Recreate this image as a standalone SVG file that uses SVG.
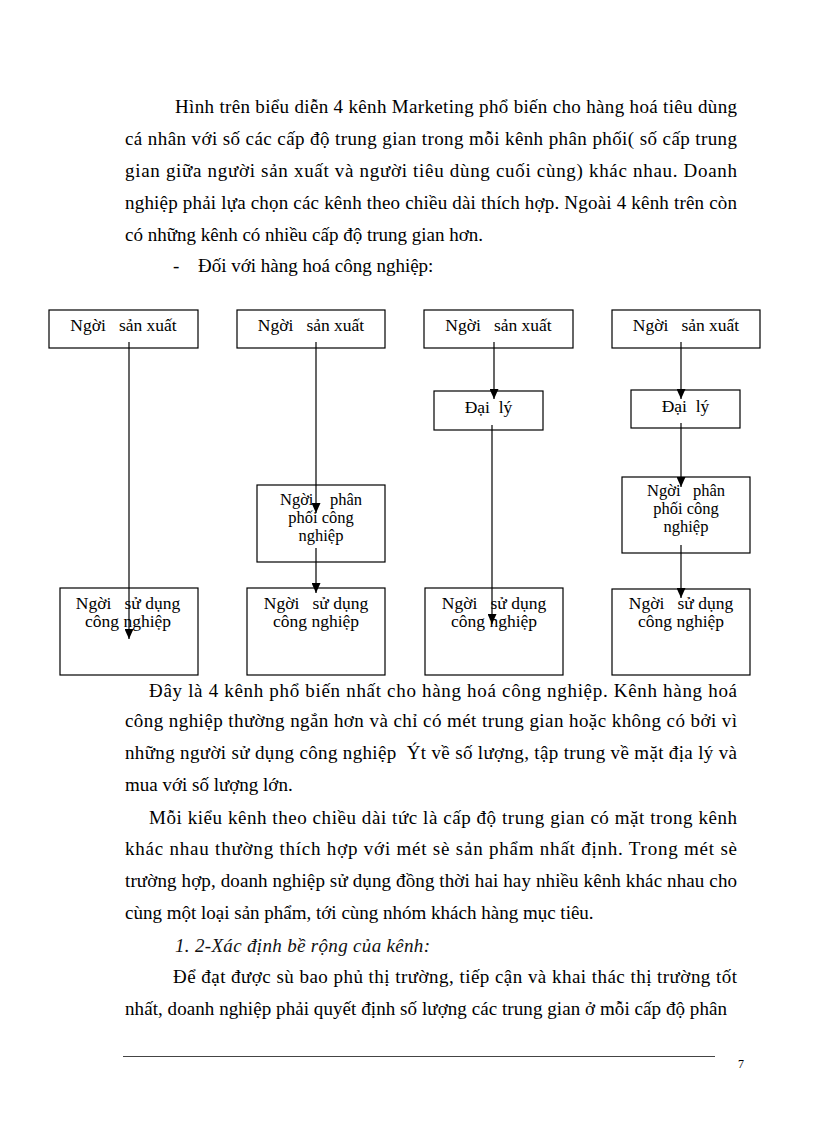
<svg xmlns="http://www.w3.org/2000/svg" width="816" height="1123" viewBox="0 0 816 1123">
<style>
  .body { font-family: "Liberation Serif", "Times New Roman", serif; font-size: 19px; fill: #000; }
  .ital { font-family: "Liberation Serif", "Times New Roman", serif; font-size: 19px; font-style: italic; fill: #111; }
  .lbl { font-family: "Liberation Serif", "Times New Roman", serif; font-size: 17.5px; fill: #000; text-anchor: middle; }
  .lbs { font-family: "Liberation Serif", "Times New Roman", serif; font-size: 16.5px; fill: #000; text-anchor: middle; }
  .box { fill: #fff; stroke: #000; stroke-width: 1.2; }
  .conn { stroke: #000; stroke-width: 1.2; fill: none; marker-end: url(#arr); }
  .pn { font-family: "Liberation Serif", "Times New Roman", serif; font-size: 12px; fill: #000; }
</style>
<defs>
  <marker id="arr" markerUnits="userSpaceOnUse" markerWidth="10" markerHeight="9" refX="10" refY="4.5" orient="auto">
    <path d="M0,0 L10,4.5 L0,9 z" fill="#000"/>
  </marker>
</defs>
<rect width="816" height="1123" fill="#fff"/>

<g id="text-top">
  <text class="body" x="175" y="112.5" textLength="562" lengthAdjust="spacing">Hình trên biểu diễn 4 kênh Marketing phổ biến cho hàng hoá tiêu dùng</text>
  <text class="body" x="125" y="145" textLength="612" lengthAdjust="spacing">cá nhân với số các cấp độ trung gian trong mỗi kênh phân phối( số cấp trung</text>
  <text class="body" x="125" y="177" textLength="612" lengthAdjust="spacing">gian giữa người sản xuất và người tiêu dùng cuối cùng) khác nhau. Doanh</text>
  <text class="body" x="125" y="209" textLength="612" lengthAdjust="spacing">nghiệp phải lựa chọn các kênh theo chiều dài thích hợp. Ngoài 4 kênh trên còn</text>
  <text class="body" x="125" y="241">có những kênh có nhiều cấp độ trung gian hơn.</text>
  <text class="body" x="173" y="272">-</text>
  <text class="body" x="198" y="272">Đối với hàng hoá công nghiệp:</text>
</g>

<g id="c1-producer">
  <rect class="box" x="49" y="310" width="149" height="38"/>
  <text class="lbl" x="123.5" y="331" xml:space="preserve">Ngời   sản xuất</text>
</g>
<g id="c1-user">
  <rect class="box" x="60" y="588" width="138" height="87"/>
  <text class="lbl" x="128" y="609" xml:space="preserve">Ngời   sử dụng</text>
  <text class="lbl" x="128" y="627">công nghiệp</text>
</g>

<g id="c2-producer">
  <rect class="box" x="237" y="310" width="148" height="38"/>
  <text class="lbl" x="311" y="331" xml:space="preserve">Ngời   sản xuất</text>
</g>
<g id="c2-distributor">
  <rect class="box" x="257" y="485" width="128" height="77"/>
  <text class="lbs" x="321" y="505" xml:space="preserve">Ngời    phân</text>
  <text class="lbs" x="321" y="523">phối công</text>
  <text class="lbs" x="321" y="541">nghiệp</text>
</g>
<g id="c2-user">
  <rect class="box" x="247" y="588" width="138" height="87"/>
  <text class="lbl" x="316" y="609" xml:space="preserve">Ngời   sử dụng</text>
  <text class="lbl" x="316" y="627">công nghiệp</text>
</g>

<g id="c3-producer">
  <rect class="box" x="424" y="310" width="149" height="38"/>
  <text class="lbl" x="498.5" y="331" xml:space="preserve">Ngời   sản xuất</text>
</g>
<g id="c3-agent">
  <rect class="box" x="434" y="391" width="109" height="39"/>
  <text class="lbl" x="488.5" y="413" xml:space="preserve">Đại  lý</text>
</g>
<g id="c3-user">
  <rect class="box" x="425" y="588" width="138" height="87"/>
  <text class="lbl" x="494" y="609" xml:space="preserve">Ngời   sử dụng</text>
  <text class="lbl" x="494" y="627">công nghiệp</text>
</g>

<g id="c4-producer">
  <rect class="box" x="612" y="310" width="148" height="38"/>
  <text class="lbl" x="686" y="331" xml:space="preserve">Ngời   sản xuất</text>
</g>
<g id="c4-agent">
  <rect class="box" x="631" y="390" width="109" height="38"/>
  <text class="lbl" x="685.5" y="412" xml:space="preserve">Đại  lý</text>
</g>
<g id="c4-distributor">
  <rect class="box" x="622" y="477" width="128" height="76"/>
  <text class="lbs" x="686" y="496" xml:space="preserve">Ngời   phân</text>
  <text class="lbs" x="686" y="514">phối công</text>
  <text class="lbs" x="686" y="532">nghiệp</text>
</g>
<g id="c4-user">
  <rect class="box" x="612" y="589" width="138" height="86"/>
  <text class="lbl" x="681" y="609" xml:space="preserve">Ngời   sử dụng</text>
  <text class="lbl" x="681" y="627">công nghiệp</text>
</g>

<g id="connectors">
  <line class="conn" x1="129" y1="342" x2="129" y2="639"/>
  <line class="conn" x1="316" y1="342" x2="316" y2="513"/>
  <line class="conn" x1="316" y1="548" x2="316" y2="593"/>
  <line class="conn" x1="494" y1="342" x2="494" y2="399"/>
  <line class="conn" x1="492" y1="425" x2="492" y2="624"/>
  <line class="conn" x1="681" y1="342" x2="681" y2="399"/>
  <line class="conn" x1="681" y1="423" x2="681" y2="487"/>
  <line class="conn" x1="681" y1="545" x2="681" y2="598"/>
</g>

<g id="text-bottom">
  <text class="body" x="149" y="697" textLength="588" lengthAdjust="spacing">Đây là 4 kênh phổ biến nhất cho hàng hoá công nghiệp. Kênh hàng hoá</text>
  <text class="body" x="125" y="727" textLength="612" lengthAdjust="spacing">công nghiệp thường ngắn hơn và chỉ có mét trung gian hoặc không có bởi vì</text>
  <text class="body" x="125" y="759" textLength="612" lengthAdjust="spacing" xml:space="preserve">những người sử dụng công nghiệp  Ýt về số lượng, tập trung về mặt địa lý và</text>
  <text class="body" x="125" y="791">mua với số lượng lớn.</text>
  <text class="body" x="149" y="824" textLength="588" lengthAdjust="spacing">Mỗi kiểu kênh theo chiều dài tức là cấp độ trung gian có mặt trong kênh</text>
  <text class="body" x="125" y="855" textLength="612" lengthAdjust="spacing">khác nhau thường thích hợp với mét sè sản phẩm nhất định. Trong mét sè</text>
  <text class="body" x="125" y="887" textLength="612" lengthAdjust="spacing">trường hợp, doanh nghiệp sử dụng đồng thời hai hay nhiều kênh khác nhau cho</text>
  <text class="body" x="125" y="919">cùng một loại sản phẩm, tới cùng nhóm khách hàng mục tiêu.</text>
  <text class="ital" x="175" y="951.5" textLength="255" lengthAdjust="spacing">1. 2-Xác định bề rộng của kênh:</text>
  <text class="body" x="173" y="983" textLength="564" lengthAdjust="spacing">Để đạt được sù bao phủ thị trường, tiếp cận và khai thác thị trường tốt</text>
  <text class="body" x="125" y="1015" textLength="602" lengthAdjust="spacing">nhất, doanh nghiệp phải quyết định số lượng các trung gian ở mỗi cấp độ phân</text>
</g>

<g id="footer">
  <line x1="123" y1="1056.5" x2="715" y2="1056.5" stroke="#444" stroke-width="1"/>
  <text class="pn" x="738" y="1068">7</text>
</g>
</svg>
